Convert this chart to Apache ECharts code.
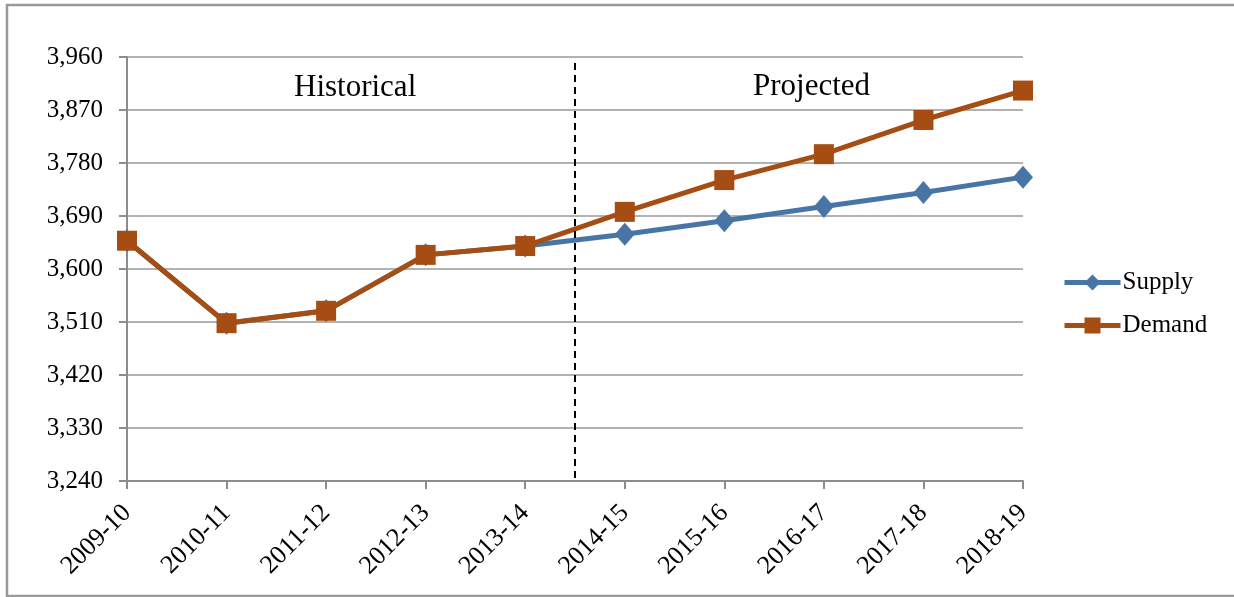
<!DOCTYPE html>
<html>
<head>
<meta charset="utf-8">
<script src="https://cdn.jsdelivr.net/npm/echarts@6/dist/echarts.min.js"></script>
<style>
  html, body { margin: 0; padding: 0; background: #fff; }
  #chart { width: 1234px; height: 597px; }
</style>
</head>
<body>
<div id="chart"></div>
<script>
// categories and values
const years = ["2009-10", "2010-11", "2011-12", "2012-13", "2013-14",
  "2014-15", "2015-16", "2016-17", "2017-18", "2018-19"];
const supply = [3648, 3508, 3529, 3624, 3639, 3659, 3682, 3706, 3730, 3756];
const demand = [3648, 3508, 3529, 3624, 3639, 3697, 3751, 3795, 3853, 3903];
// split between historical and projected (between 2013-14 and 2014-15)
const splitAt = 4.5;

const font = "'Liberation Serif', 'Times New Roman', serif";
const chart = echarts.init(document.getElementById("chart"));

let option = {
  backgroundColor: "#fff",
  animation: false,
  textStyle: { fontFamily: font },
  grid: { left: 127, right: 211, top: 57, height: 424 },
  legend: {
    data: ["Supply", "Demand"],
    orient: "vertical",
    left: 1057,
    top: 265,
    itemWidth: 56,
    itemHeight: 20,
    itemGap: 18,
    lineStyle: { width: 5 },
    textStyle: { fontFamily: font, fontSize: 25, color: "#000", padding: [0, 0, 0, -3] },
  },
  xAxis: [{
    type: "category",
    data: years,
    boundaryGap: false,
    axisLine: { lineStyle: { color: "#8c8c8c", width: 2 } },
    axisTick: { show: true, length: 8, lineStyle: { color: "#8c8c8c", width: 2 } },
    axisLabel: {
      rotate: 45,
      margin: 28,
      fontFamily: font,
      fontSize: 26,
      color: "#000",
    },
    splitLine: { show: false },
  }, {
    // hidden helper axis for the dashed divider
    type: "value",
    min: 0,
    max: years.length - 1,
    show: false,
  }],
  yAxis: {
    type: "value",
    min: 3240,
    max: 3960,
    interval: 90,
    axisLine: { show: true, lineStyle: { color: "#8c8c8c", width: 2 } },
    axisTick: { show: true, length: 8, lineStyle: { color: "#8c8c8c", width: 2 } },
    axisLabel: {
      margin: 24,
      fontFamily: font,
      fontSize: 25,
      color: "#000",
      formatter: (v) => v.toLocaleString("en-US"),
    },
    splitLine: { lineStyle: { color: "#999", width: 1.5 } },
  },
  graphic: [{
    type: "rect",
    silent: true,
    shape: { x: 7, y: 5, width: 1400, height: 591 },
    style: { fill: "none", stroke: "#999", lineWidth: 2.5 },
  }, {
    type: "text",
    left: 294,
    top: 72,
    style: { text: "Historical", font: "31px " + font, fill: "#000" },
  }, {
    type: "text",
    left: 753,
    top: 71,
    style: { text: "Projected", font: "31px " + font, fill: "#000" },
  }],
  series: [{
    name: "Supply",
    type: "line",
    data: supply,
    symbol: "diamond",
    symbolSize: [20, 23],
    lineStyle: { color: "#4875a6", width: 5 },
    itemStyle: { color: "#4875a6" },
    z: 2,
  }, {
    name: "Demand",
    type: "line",
    data: demand,
    symbol: "rect",
    symbolSize: 20,
    lineStyle: { color: "#a64d14", width: 5 },
    itemStyle: { color: "#a64d14" },
    z: 3,
  }, {
    name: "divider",
    type: "line",
    xAxisIndex: 1,
    data: [],
    markLine: {
      silent: true,
      symbol: "none",
      label: { show: false },
      lineStyle: { color: "#000", type: [7, 5], width: 2 },
      data: [[{ coord: [splitAt, 3950] }, { coord: [splitAt, 3240] }]],
    },
  }],
};
chart.setOption(option);
</script>
</body>
</html>
